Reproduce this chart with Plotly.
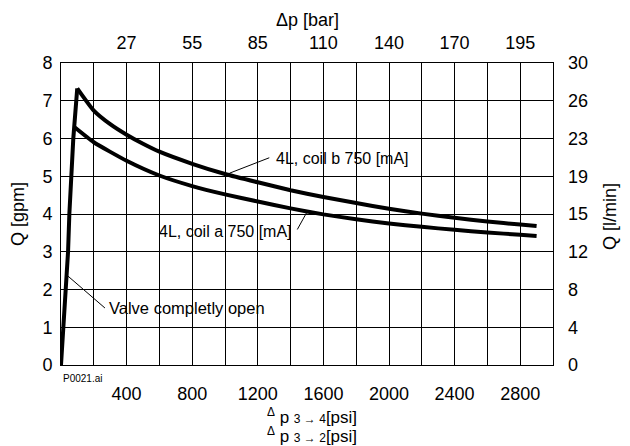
import plotly.graph_objects as go

# ---- data ----
valve_psi = [0, 14, 30, 43, 51, 63, 75, 99]
valve_gpm = [0, 1.0, 2.0, 3.0, 4.0, 5.0, 6.0, 7.33]

coil_b_psi = [99, 200, 300, 400, 500, 600, 800, 1000, 1200, 1400, 1600, 1800, 2000, 2200, 2400, 2600, 2800, 2900]
coil_b_gpm = [7.33, 6.74, 6.38, 6.10, 5.86, 5.65, 5.33, 5.06, 4.84, 4.63, 4.45, 4.29, 4.14, 4.01, 3.90, 3.80, 3.72, 3.68]

coil_a_psi = [85, 200, 400, 600, 800, 1000, 1200, 1400, 1600, 1800, 2000, 2200, 2400, 2600, 2800, 2900]
coil_a_gpm = [6.29, 5.90, 5.41, 5.02, 4.74, 4.52, 4.33, 4.15, 3.99, 3.86, 3.75, 3.66, 3.58, 3.51, 3.45, 3.42]

psi_ticks = [400, 800, 1200, 1600, 2000, 2400, 2800]
bar_labels = ["27", "55", "85", "110", "140", "170", "195"]
gpm_ticks = [0, 1, 2, 3, 4, 5, 6, 7, 8]
lmin_labels = ["0", "4", "8", "12", "15", "19", "23", "26", "30"]
grid_step_psi = 200

FONT = "Liberation Sans, Arial, Helvetica, sans-serif"
BLACK = "#000000"
TICK = 18

fig = go.Figure()
fig.add_trace(go.Scatter(x=valve_psi, y=valve_gpm, mode="lines",
                         line=dict(color=BLACK, width=4), hoverinfo="skip", showlegend=False))
fig.add_trace(go.Scatter(x=coil_b_psi, y=coil_b_gpm, mode="lines",
                         line=dict(color=BLACK, width=4, shape="spline", smoothing=0.5),
                         hoverinfo="skip", showlegend=False))
fig.add_trace(go.Scatter(x=coil_a_psi, y=coil_a_gpm, mode="lines",
                         line=dict(color=BLACK, width=4, shape="spline", smoothing=0.5),
                         hoverinfo="skip", showlegend=False))
# invisible trace to activate secondary axes
fig.add_trace(go.Scatter(x=[0, 3000], y=[0, 8], xaxis="x2", yaxis="y2", mode="markers",
                         marker=dict(opacity=0), hoverinfo="skip", showlegend=False))

fig.update_layout(
    width=630, height=446,
    margin=dict(l=61, r=77, t=63, b=81),
    paper_bgcolor="white", plot_bgcolor="white",
    font=dict(family=FONT, size=16, color=BLACK),
    xaxis=dict(range=[0, 3000], tickvals=psi_ticks, automargin=False,
               showgrid=True, gridcolor=BLACK, gridwidth=1, zeroline=False,
               minor=dict(tick0=0, dtick=grid_step_psi, showgrid=True, gridcolor=BLACK,
                          gridwidth=1, ticks=""),
               showline=True, linecolor=BLACK, linewidth=1, mirror=True,
               ticks="", ticklabelstandoff=12, tickfont=dict(size=TICK)),
    yaxis=dict(range=[0, 8], tickvals=gpm_ticks, automargin=False,
               showgrid=True, gridcolor=BLACK, gridwidth=1, zeroline=False,
               showline=True, linecolor=BLACK, linewidth=1, mirror=True,
               ticks="", ticklabelstandoff=4, tickfont=dict(size=TICK)),
    xaxis2=dict(range=[0, 3000], overlaying="x", side="top", tickvals=psi_ticks, automargin=False,
                ticktext=bar_labels, showgrid=False, zeroline=False, showline=False,
                ticks="", ticklabelstandoff=9, tickfont=dict(size=TICK)),
    yaxis2=dict(range=[0, 8], overlaying="y", side="right", tickvals=gpm_ticks, automargin=False,
                ticktext=lmin_labels, showgrid=False, zeroline=False, showline=False,
                ticks="", ticklabelstandoff=14, tickfont=dict(size=TICK)),
)

ann = []
def A(text, x, y, xref="x", yref="y", **kw):
    d = dict(text=text, x=x, y=y, xref=xref, yref=yref, showarrow=False,
             font=dict(family=FONT, size=16, color=BLACK))
    d.update(kw)
    ann.append(d)

A("4L, coil b 750 [mA]", 1300, 5.47, xanchor="left", yanchor="middle")
A("4L, coil a 750 [mA]", 1420, 3.54, xanchor="right", yanchor="middle")
A("Valve completly open", 280, 1.51, xanchor="left", yanchor="middle", font=dict(family=FONT, size=16.5, color=BLACK))
A("P0021.ai", 0.0, -13/302, xref="paper", yref="paper", xanchor="left", yanchor="middle",
  font=dict(family=FONT, size=10, color=BLACK))
A("Δp [bar]", 0.50, 1.0 + 43/302, xref="paper", yref="paper", xanchor="center", yanchor="middle",
  font=dict(family=FONT, size=TICK, color=BLACK))
A("Q [gpm]", -43/492, 0.5, xref="paper", yref="paper", xanchor="center", yanchor="middle", textangle=-90,
  font=dict(family=FONT, size=TICK, color=BLACK))
A("Q [l/min]", 1 + 57/492, 0.49, xref="paper", yref="paper", xanchor="center", yanchor="middle", textangle=-90,
  font=dict(family=FONT, size=TICK, color=BLACK))
A("<sup>Δ</sup> p <span style='font-size:12px'>3 → 4</span>[psi]", 0.51, -51/302,
  xref="paper", yref="paper", xanchor="center", yanchor="middle", font=dict(family=FONT, size=17, color=BLACK))
A("<sup>Δ</sup> p <span style='font-size:12px'>3 → 2</span>[psi]", 0.51, -70/302,
  xref="paper", yref="paper", xanchor="center", yanchor="middle", font=dict(family=FONT, size=17, color=BLACK))
fig.update_layout(annotations=ann)

# leader lines
leaders = [
    (1027, 5.08, 1270, 5.49),
    (1441, 3.59, 1502, 4.07),
    (33, 2.39, 268, 1.51),
]
for x0, y0, x1, y1 in leaders:
    fig.add_shape(type="line", x0=x0, y0=y0, x1=x1, y1=y1, xref="x", yref="y",
                  line=dict(color=BLACK, width=1))

fig.write_html("out.html", config={"displayModeBar": False},
               post_script="document.body.style.margin='0';")
